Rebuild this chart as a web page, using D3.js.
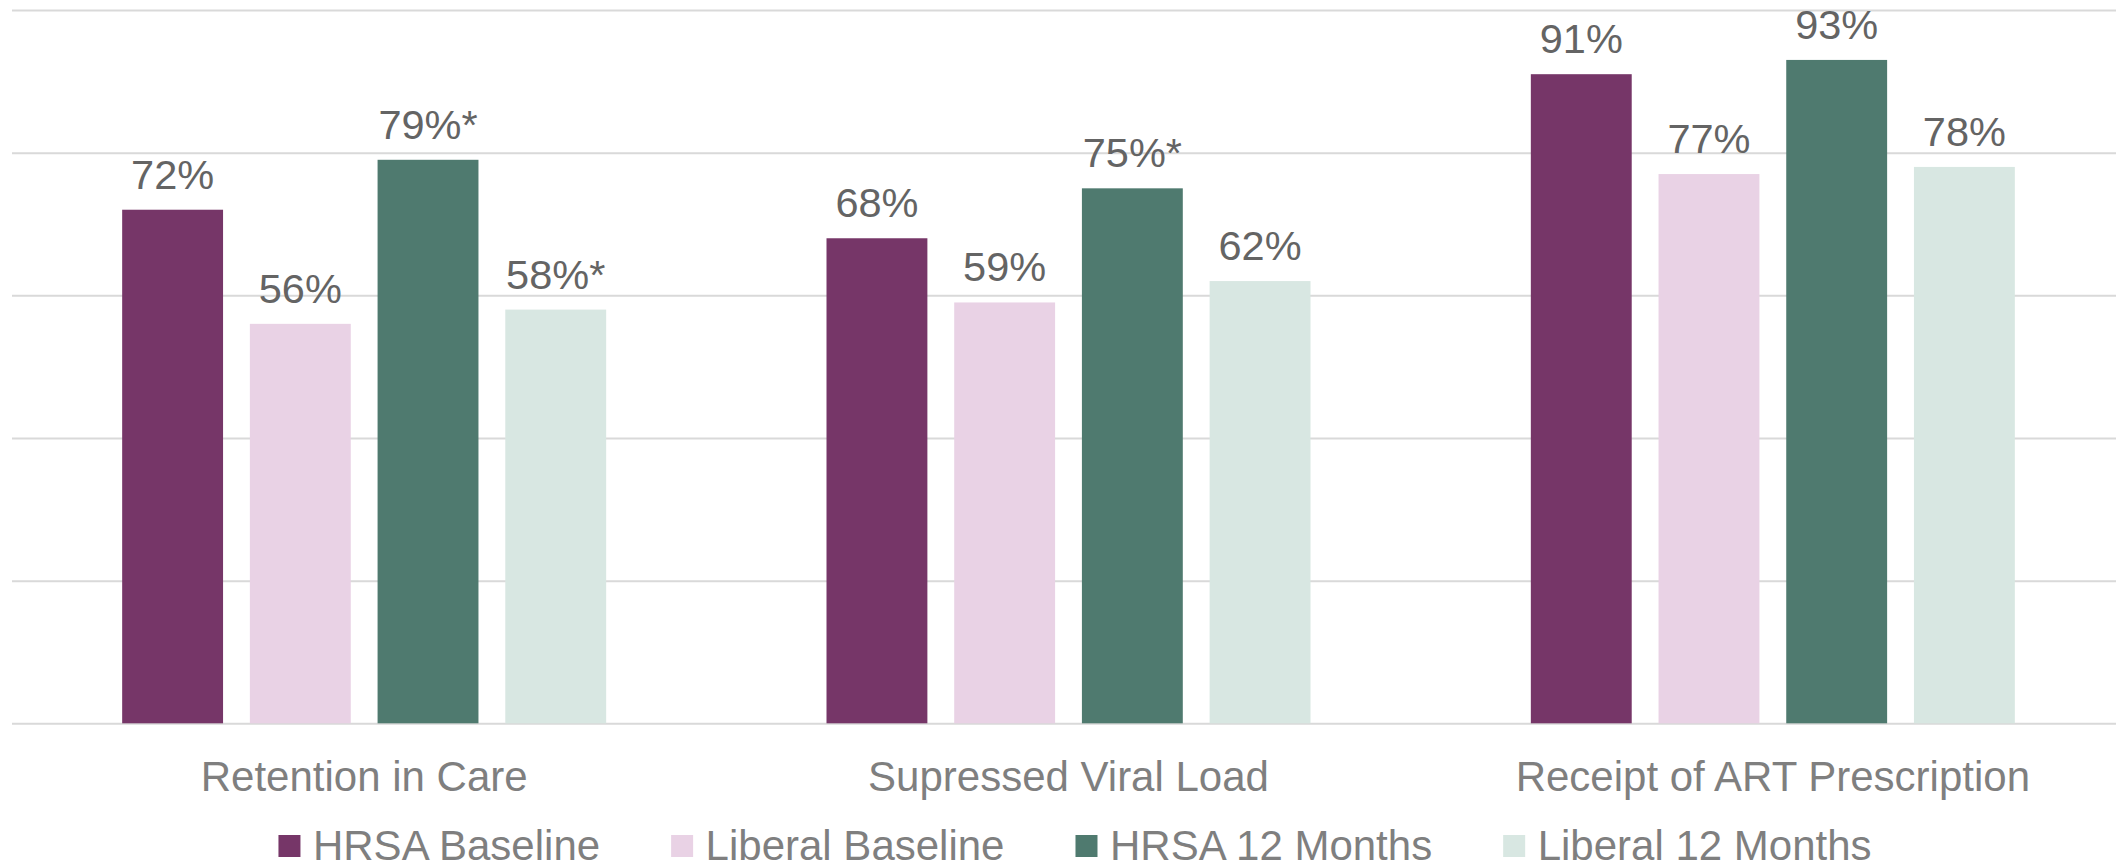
<!DOCTYPE html>
<html>
<head>
<meta charset="utf-8">
<script src="https://cdn.jsdelivr.net/npm/d3@7"></script>
<style>
  body { margin: 0; background: #fff; }
  svg { display: block; font-family: "Liberation Sans", Arial, sans-serif; }
  .grid line { stroke: #d9d9d9; stroke-width: 2px; }
  .grid .domain { display: none; }
</style>
</head>
<body>
<script>
//chart data
var categories = ["Retention in Care", "Supressed Viral Load", "Receipt of ART Prescription"];
var seriesNames = ["HRSA Baseline", "Liberal Baseline", "HRSA 12 Months", "Liberal 12 Months"];
var hrsaBaseline = [72, 68, 91];
var liberalBaseline = [56, 59, 77];
var hrsa12 = [79, 75, 93];
var liberal12 = [58, 62, 78];
//asterisk = significant change
var hrsa12Star = [true, true, false];
var liberal12Star = [true, false, false];
var yTicks = [0, 20, 40, 60, 80, 100];
var colors = ["#763668", "#e9d2e5", "#4f7a6f", "#d8e7e2"];

var seriesValues = [hrsaBaseline, liberalBaseline, hrsa12, liberal12];
var seriesStars = [null, null, hrsa12Star, liberal12Star];

var width = 2116, height = 864;

var svg = d3.select("body")
    .append("svg")
    .attr("width", width)
    .attr("height", height);

//plot area
var plotLeft = 12, plotRight = 2125, plotTop = 10, plotBottom = 723.3;

var y = d3.scaleLinear()
    .domain([0, 100])
    .range([plotBottom, plotTop]);

var x0 = d3.scaleBand()
    .domain(categories)
    .range([plotLeft, plotRight]);

//bars cluster inside each category band
var clusterWidth = 484;
var x1 = d3.scaleBand()
    .domain(seriesNames)
    .range([0, clusterWidth])
    .paddingInner(0.21)
    .paddingOuter(0);

//gridlines
svg.append("g")
    .attr("class", "grid")
    .attr("transform", "translate(" + plotLeft + ",0)")
    .call(d3.axisLeft(y).tickValues(yTicks).tickSize(-(width - plotLeft)).tickFormat(""));

//build flat list of bars
var bars = [];
categories.forEach(function(cat, ci){
    seriesNames.forEach(function(s, si){
        var star = seriesStars[si] ? seriesStars[si][ci] : false;
        bars.push({cat: cat, series: s, si: si, value: seriesValues[si][ci], star: star});
    });
});

function barX(d){
    return x0(d.cat) + (x0.bandwidth() - clusterWidth) / 2 + x1(d.series);
}

svg.selectAll(".bar")
    .data(bars)
    .enter()
    .append("rect")
    .attr("class", "bar")
    .attr("x", barX)
    .attr("y", function(d){ return y(d.value); })
    .attr("width", x1.bandwidth())
    .attr("height", function(d){ return y(0) - y(d.value); })
    .style("fill", function(d){ return colors[d.si]; });

//value labels
svg.selectAll(".valLabel")
    .data(bars)
    .enter()
    .append("text")
    .attr("class", "valLabel")
    .attr("x", function(d){ return barX(d) + x1.bandwidth() / 2; })
    .attr("y", function(d){ return y(d.value) - 21; })
    .attr("text-anchor", "middle")
    .style("font-size", "41.5px")
    .style("fill", "#646464")
    .text(function(d){ return d.value + "%" + (d.star ? "*" : ""); });

//category labels
svg.selectAll(".catLabel")
    .data(categories)
    .enter()
    .append("text")
    .attr("class", "catLabel")
    .attr("x", function(d){ return x0(d) + x0.bandwidth() / 2; })
    .attr("y", 791)
    .attr("text-anchor", "middle")
    .style("font-size", "42px")
    .style("fill", "#7f7f7f")
    .text(function(d){ return d; });

//legend
var legend = svg.append("g").attr("class", "legend");
var lx = 0;
seriesNames.forEach(function(s, i){
    var item = legend.append("g").attr("transform", "translate(" + lx + ",0)");
    item.append("rect")
        .attr("x", 0)
        .attr("y", 835)
        .attr("width", 22)
        .attr("height", 22)
        .style("fill", colors[i]);
    var t = item.append("text")
        .attr("x", 34.5)
        .attr("y", 860)
        .style("font-size", "42px")
        .style("fill", "#7f7f7f")
        .text(s);
    lx += 34.5 + t.node().getComputedTextLength() + 71;
});
var legendWidth = lx - 71;
legend.attr("transform", "translate(" + (1075 - legendWidth / 2) + ",0)");
</script>
</body>
</html>
